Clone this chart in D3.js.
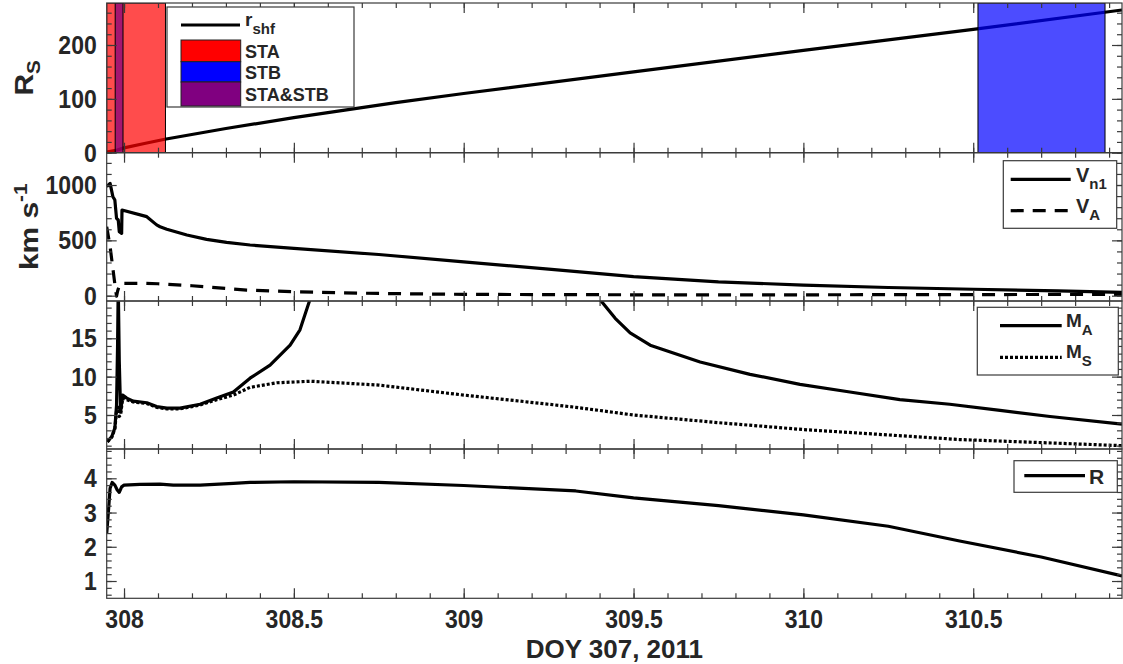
<!DOCTYPE html>
<html><head><meta charset="utf-8">
<script src="https://cdn.jsdelivr.net/npm/d3@7"></script>
<style>
html,body{margin:0;padding:0;background:#fff;}
text{font-family:"Liberation Sans",Arial,Helvetica,sans-serif;font-weight:bold;fill:#262626;}
</style></head><body>
<svg id="c" width="1123" height="664"></svg>
<script>
// ---------------- DATA ----------------
const xDomain = [307.949, 310.938];
const xMajorTicks = [308, 308.5, 309, 309.5, 310, 310.5];
const xTickLabels = ["308", "308.5", "309", "309.5", "310", "310.5"];
const xLabel = "DOY 307, 2011";

// Panel 1: shock front distance (R_S) and spacecraft intervals
const rDays = [307.949, 307.98, 308.0, 308.06, 308.12, 308.3, 308.5, 308.8, 309.0, 309.5, 310.0, 310.5, 310.938];
const rShf  = [1, 5, 9, 17, 25, 45, 65, 93, 110, 150, 190, 229, 265];
const staBand  = [307.949, 308.122];
const stbBand  = [310.514, 310.888];
const bothBand = [307.974, 307.997];
const p1Ticks = [0, 100, 200];

// Panel 2: speeds (km/s)
const vnDays = [307.949, 307.959, 307.967, 307.973, 307.978, 307.983, 307.986, 307.993, 307.994, 308.067, 308.096, 308.106, 308.126, 308.185, 308.243, 308.302, 308.371, 308.5, 308.75, 309.0, 309.25, 309.4, 309.5, 309.75, 310.0, 310.25, 310.5, 310.75, 310.938];
const vn1    = [985, 1015, 897, 864, 699, 684, 578, 563, 774, 714, 640, 623, 601, 548, 509, 482, 458, 428, 372, 305, 240, 200, 172, 125, 96, 74, 58, 43, 30];
const vaDays = [307.949, 307.959, 307.969, 307.974, 307.978, 307.981, 307.988, 308.05, 308.1, 308.2, 308.361, 308.5, 308.75, 309.0, 309.5, 310.0, 310.5, 310.938];
const vA     = [623, 443, 202, 81, -5, 40, 112, 112, 108, 90, 51, 35, 20, 12, 8, 8, 10, 12];
const p2Ticks = [0, 500, 1000];

// Panel 3: Mach numbers
const maDays = [307.951, 307.964, 307.973, 307.978, 307.981, 307.983, 307.986, 307.990, 307.996, 308.008, 308.027, 308.067, 308.096, 308.126, 308.165, 308.224, 308.273, 308.322, 308.371, 308.430, 308.489, 308.518, 308.547, 308.6, 309.0, 309.35, 309.402, 309.446, 309.490, 309.549, 309.696, 309.843, 309.990, 310.137, 310.284, 310.431, 310.579, 310.726, 310.938];
const mA     = [1.5, 2.2, 3.3, 6.3, 14.1, 22, 12, 5.4, 7.6, 7.2, 6.8, 6.6, 6.1, 5.9, 5.9, 6.4, 7.2, 8.0, 9.8, 11.5, 14.1, 16.1, 20, 24, 30, 24, 20, 17.6, 15.7, 14.1, 11.9, 10.3, 9.0, 8.0, 7.0, 6.4, 5.6, 4.8, 3.8];
const msDays = [307.951, 307.964, 307.973, 307.978, 307.983, 307.986, 307.990, 307.996, 308.008, 308.027, 308.067, 308.096, 308.126, 308.165, 308.224, 308.273, 308.322, 308.371, 308.45, 308.55, 308.75, 309.0, 309.25, 309.33, 309.5, 309.75, 310.0, 310.25, 310.46, 310.7, 310.938];
const mS     = [1.5, 2.1, 3.2, 5.5, 6.0, 4.8, 5.0, 7.2, 7.0, 6.7, 6.5, 6.0, 5.8, 5.8, 6.3, 7.0, 7.6, 8.6, 9.2, 9.4, 8.9, 7.6, 6.4, 6.0, 5.0, 4.0, 3.1, 2.4, 1.8, 1.4, 1.0];
const p3Ticks = [5, 10, 15];

// Panel 4: compression ratio R
const rcDays = [307.949, 307.954, 307.959, 307.965, 307.973, 307.980, 307.986, 307.993, 308.0, 308.047, 308.106, 308.145, 308.224, 308.322, 308.371, 308.5, 308.75, 309.0, 309.33, 309.5, 309.75, 310.0, 310.25, 310.46, 310.7, 310.938];
const rComp  = [2.39, 3.02, 3.71, 3.88, 3.80, 3.66, 3.59, 3.75, 3.80, 3.82, 3.83, 3.80, 3.80, 3.85, 3.88, 3.90, 3.88, 3.79, 3.63, 3.43, 3.20, 2.93, 2.60, 2.17, 1.70, 1.15];
const p4Ticks = [1, 2, 3, 4];

// ---------------- LAYOUT ----------------
const svg = d3.select("#c");
const xL = 106.7, xR = 1122;
const SY = 1.15;              // vertical stretch of glyphs in the reference
const LW = 3.2;
const x = d3.scaleLinear().domain(xDomain).range([xL, xR]);
const xMinor = d3.range(308, 310.95, 0.1).map(v => +v.toFixed(2));
const axisCol = "#3a3a3a";
const FS = 23;

const panels = [
  {top: 3,     bot: 152.7, dom: [0, 278],        ticks: p1Ticks, minor: d3.range(0, 280, 20)},
  {top: 152.7, bot: 301,   dom: [-48, 1292],     ticks: p2Ticks, minor: d3.range(0, 1300, 100)},
  {top: 301,   bot: 449,   dom: [0.567, 19.86],  ticks: p3Ticks, minor: d3.range(1, 20, 1)},
  {top: 449,   bot: 598.3, dom: [0.495, 4.856],  ticks: p4Ticks, minor: d3.range(0.6, 4.85, 0.2).map(v => +v.toFixed(1))}
];
panels.forEach((p, i) => {
  p.y = d3.scaleLinear().domain(p.dom).range([p.bot, p.top]);
  svg.append("clipPath").attr("id", "clip" + i).append("rect")
    .attr("x", xL).attr("y", p.top).attr("width", xR - xL).attr("height", p.bot - p.top);
  p.g = svg.append("g").attr("clip-path", `url(#clip${i})`);
});

function lineOf(days, vals, y) {
  return d3.line().x((d, i) => x(days[i])).y((d, i) => y(vals[i]))(vals);
}
function drawLine(p, days, vals, dash) {
  const s = p.g.append("path").attr("d", lineOf(days, vals, p.y))
    .attr("fill", "none").attr("stroke", "#000").attr("stroke-width", LW).attr("stroke-linejoin", "round");
  if (dash) s.attr("stroke-dasharray", dash);
}

// Panel 1 content
const P1 = panels[0];
drawLine(P1, rDays, rShf);
function band(b, col) {
  P1.g.append("rect").attr("x", x(b[0])).attr("width", x(b[1]) - x(b[0]))
    .attr("y", P1.top).attr("height", P1.bot - P1.top)
    .attr("fill", col).attr("fill-opacity", 0.7)
    .attr("stroke", "#000").attr("stroke-width", 1);
}
band(staBand, "rgb(255,0,0)");
band(stbBand, "rgb(0,0,255)");
band(bothBand, "rgb(128,0,128)");

// Panel 2-4 content
const P2 = panels[1], P3 = panels[2], P4 = panels[3];
drawLine(P2, vnDays, vn1);
drawLine(P2, vaDays, vA, "13,9");
drawLine(P3, maDays, mA);
drawLine(P3, msDays, mS, "3,2");
drawLine(P4, rcDays, rComp);

// Axes
panels.forEach((p, i) => {
  const ax = svg.append("g");
  ax.append("rect").attr("x", xL).attr("y", p.top).attr("width", xR - xL).attr("height", p.bot - p.top)
    .attr("fill", "none").attr("stroke", axisCol).attr("stroke-width", 1.2);
  const styleAxis = g => { g.select(".domain").remove(); g.selectAll("line").attr("stroke", axisCol).attr("stroke-width", 1.2); };
  ax.append("g").attr("transform", `translate(${xL},0)`)
    .call(d3.axisLeft(p.y).tickValues(p.ticks).tickSize(-10).tickPadding(10).tickFormat(d3.format("")))
    .call(styleAxis)
    .call(g => g.selectAll("text").attr("font-size", FS).attr("fill", "#262626").attr("font-family", null)
      .attr("transform", `scale(1,${SY})`));
  ax.append("g").attr("transform", `translate(${xL},0)`)
    .call(d3.axisLeft(p.y).tickValues(p.minor).tickSize(-5).tickFormat("")).call(styleAxis);
  ax.append("g").attr("transform", `translate(${xR},0)`)
    .call(d3.axisRight(p.y).tickValues(p.ticks).tickSize(-10).tickFormat("")).call(styleAxis);
  ax.append("g").attr("transform", `translate(${xR},0)`)
    .call(d3.axisRight(p.y).tickValues(p.minor).tickSize(-5).tickFormat("")).call(styleAxis);
  ax.append("g").attr("transform", `translate(0,${p.top})`)
    .call(d3.axisTop(x).tickValues(xMajorTicks).tickSize(-10).tickFormat("")).call(styleAxis);
  ax.append("g").attr("transform", `translate(0,${p.top})`)
    .call(d3.axisTop(x).tickValues(xMinor).tickSize(-5).tickFormat("")).call(styleAxis);
  ax.append("g").attr("transform", `translate(0,${p.bot})`)
    .call(d3.axisBottom(x).tickValues(xMajorTicks).tickSize(-10).tickPadding(10)
      .tickFormat((d, k) => i === 3 ? xTickLabels[k] : ""))
    .call(styleAxis)
    .call(g => g.selectAll("text").attr("font-size", FS).attr("fill", "#262626").attr("font-family", null)
      .attr("y", 9.5).attr("transform", `scale(1,${SY})`));
  ax.append("g").attr("transform", `translate(0,${p.bot})`)
    .call(d3.axisBottom(x).tickValues(xMinor).tickSize(-5).tickFormat("")).call(styleAxis);
});

// Text helper (optional vertical stretch)
function txt(x0, y0, fs, anchor, sy) {
  return svg.append("text").attr("transform", `translate(${x0},${y0}) scale(1,${sy || 1})`)
    .attr("font-size", fs).attr("text-anchor", anchor || "start");
}
// Axis labels
txt((xL + xR) / 2, 658, 26, "middle").text(xLabel);
const yl1 = svg.append("text").attr("transform", `translate(33,${(P1.top + P1.bot) / 2}) rotate(-90) scale(${SY},1)`)
  .attr("text-anchor", "middle").attr("font-size", 26);
yl1.append("tspan").text("R");
yl1.append("tspan").attr("font-size", 18).attr("dy", 7).text("S");
const yl2 = svg.append("text").attr("transform", `translate(38,${(P2.top + P2.bot) / 2}) rotate(-90) scale(${SY},1)`)
  .attr("text-anchor", "middle").attr("font-size", 26);
yl2.append("tspan").text("km s");
yl2.append("tspan").attr("font-size", 18).attr("dy", -11).text("-1");

// Legends
function box(x0, y0, x1, y1) {
  svg.append("rect").attr("x", x0).attr("y", y0).attr("width", x1 - x0).attr("height", y1 - y0)
    .attr("fill", "#fff").attr("stroke", axisCol).attr("stroke-width", 1.2);
}
function sample(x0, x1, yy, dash) {
  const s = svg.append("line").attr("x1", x0).attr("x2", x1).attr("y1", yy).attr("y2", yy)
    .attr("stroke", "#000").attr("stroke-width", LW);
  if (dash) s.attr("stroke-dasharray", dash);
}
function subLabel(x0, base, main, sub, fs, sfs, dy) {
  const t = txt(x0, base, fs);
  t.append("tspan").text(main);
  t.append("tspan").attr("font-size", sfs).attr("dy", dy).text(sub);
}
// Legend 1
box(167, 7, 354, 107);
sample(181, 240, 25);
subLabel(245, 25.5, "r", "shf", 19, 15, 8);
const legP = [["STA", "rgb(255,0,0)", 40, 61.7], ["STB", "rgb(0,0,255)", 61.7, 82], ["STA&STB", "rgb(128,0,128)", 82, 106]];
legP.forEach(([lab, col, a, b]) => {
  svg.append("rect").attr("x", 181).attr("y", a).attr("width", 59.7).attr("height", b - a)
    .attr("fill", col).attr("stroke", "#222").attr("stroke-width", 1);
  txt(245, (a + b) / 2 + 7, 18).text(lab);
});
// Legend 2
box(1003.3, 160.7, 1116.7, 228.3);
sample(1010.7, 1070.7, 179.3);
sample(1010.7, 1070.7, 210.7, "13,9");
subLabel(1076, 181.7, "V", "n1", 20, 15, 7);
subLabel(1076, 213.3, "V", "A", 20, 15, 7);
// Legend 3
box(977.3, 307.3, 1118.3, 375);
sample(1000, 1061.7, 325.7);
sample(1000, 1061.7, 357.3, "3,2");
subLabel(1066, 327.3, "M", "A", 19, 15, 8);
subLabel(1066, 358.3, "M", "S", 19, 15, 8);
// Legend 4
box(1014, 460.7, 1117.3, 492.3);
sample(1024.3, 1085, 475.7);
txt(1089, 483.5, 21).text("R");
</script></body></html>
